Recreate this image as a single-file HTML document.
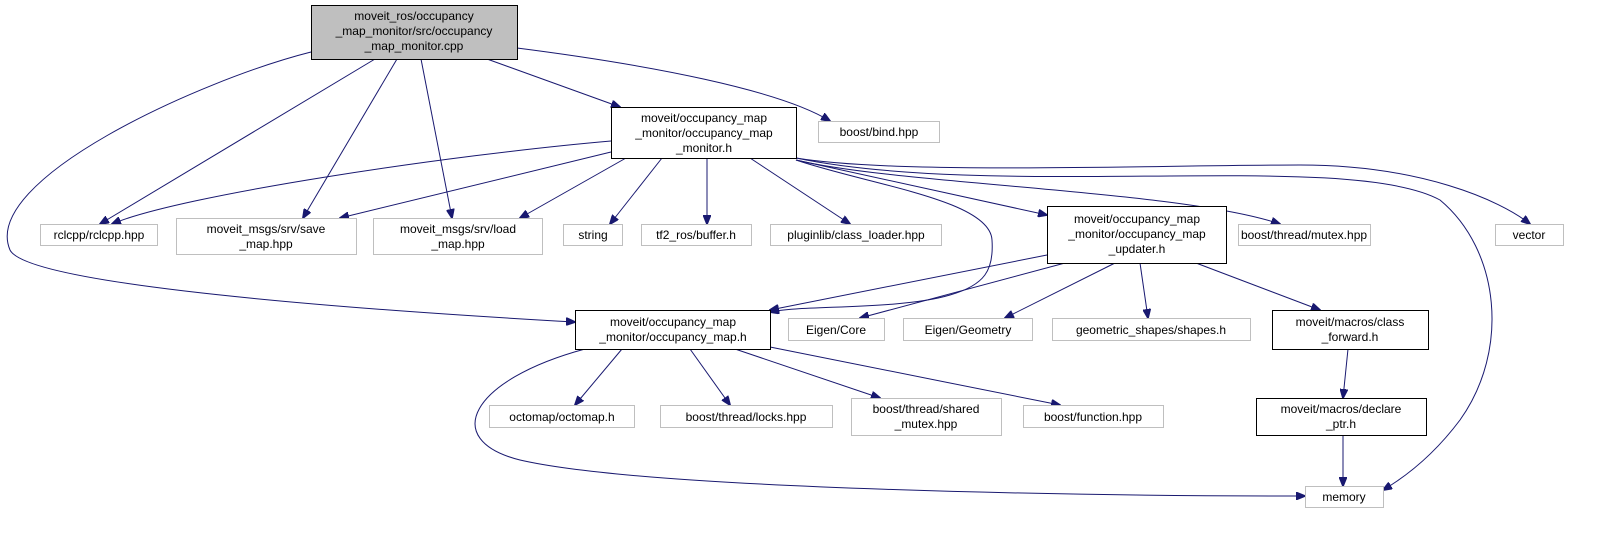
<!DOCTYPE html>
<html><head><meta charset="utf-8"><style>
body{margin:0;background:#fff}
text{font-family:"Liberation Sans",sans-serif;font-size:12px;fill:#000}
.g{fill:#fff;stroke:#bfbfbf}
.b{fill:#fff;stroke:#000}
path{fill:none;stroke:#191970;stroke-width:1}
</style></head><body>
<svg width="1610" height="528" xmlns="http://www.w3.org/2000/svg">
<defs><marker id="a" markerWidth="10" markerHeight="8" refX="9" refY="4" orient="auto" markerUnits="userSpaceOnUse"><path d="M0,0 L10,4 L0,8 z" style="fill:#191970;stroke:#191970"/></marker></defs>
<g marker-end="url(#a)">
<path d="M375,59 L100,224"/>
<path d="M397,59 L303,218"/>
<path d="M421,59 L452,218"/>
<path d="M487,59 L620,107"/>
<path d="M517,48 C650,65 780,90 830,121"/>
<path d="M311,52 C200,80 -20,180 10,250 C30,290 450,315 575,322"/>
<path d="M611,141 C450,155 180,195 112,224"/>
<path d="M611,152 L340,218"/>
<path d="M626,158 L520,218"/>
<path d="M662,158 L610,224"/>
<path d="M707,158 L707,224"/>
<path d="M750,158 L850,224"/>
<path d="M796,160 C870,185 990,200 992,240 C994,270 985,285 950,295 C900,310 800,305 770,312"/>
<path d="M796,160 L1047,215"/>
<path d="M796,160 C900,185 1180,190 1280,224"/>
<path d="M796,158 C900,175 1150,165 1300,165 C1420,165 1500,200 1530,224"/>
<path d="M796,158 C1000,200 1350,150 1440,200 C1500,250 1510,350 1460,420 C1430,460 1400,480 1383,490"/>
<path d="M1047,255 L770,310"/>
<path d="M1065,263 L860,318"/>
<path d="M1115,263 L1005,318"/>
<path d="M1140,263 L1148,318"/>
<path d="M1196,263 L1320,310"/>
<path d="M1348,349 L1343,398"/>
<path d="M1343,435 L1343,486"/>
<path d="M585,349 C470,380 440,440 520,460 C650,490 1100,496 1305,496"/>
<path d="M622,349 L575,405"/>
<path d="M690,349 L730,405"/>
<path d="M735,349 L880,398"/>
<path d="M770,347 L1060,405"/>
</g>
<rect x="311.5" y="5.5" width="206" height="54" style="fill:#bfbfbf;stroke:#000"/>
<text x="414" y="20" text-anchor="middle">moveit_ros/occupancy</text>
<text x="414" y="35" text-anchor="middle">_map_monitor/src/occupancy</text>
<text x="414" y="50" text-anchor="middle">_map_monitor.cpp</text>
<rect class="b" x="611.5" y="107.5" width="185" height="51"/>
<text x="704" y="122" text-anchor="middle">moveit/occupancy_map</text>
<text x="704" y="137" text-anchor="middle">_monitor/occupancy_map</text>
<text x="704" y="152" text-anchor="middle">_monitor.h</text>
<rect class="g" x="818.5" y="121.5" width="121" height="21"/>
<text x="879" y="136" text-anchor="middle">boost/bind.hpp</text>
<rect class="g" x="40.5" y="224.5" width="117" height="21"/>
<text x="99" y="239" text-anchor="middle">rclcpp/rclcpp.hpp</text>
<rect class="g" x="176.5" y="218.5" width="180" height="36"/>
<text x="266" y="233" text-anchor="middle">moveit_msgs/srv/save</text>
<text x="266" y="248" text-anchor="middle">_map.hpp</text>
<rect class="g" x="373.5" y="218.5" width="169" height="36"/>
<text x="458" y="233" text-anchor="middle">moveit_msgs/srv/load</text>
<text x="458" y="248" text-anchor="middle">_map.hpp</text>
<rect class="g" x="563.5" y="224.5" width="59" height="21"/>
<text x="593" y="239" text-anchor="middle">string</text>
<rect class="g" x="641.5" y="224.5" width="110" height="21"/>
<text x="696" y="239" text-anchor="middle">tf2_ros/buffer.h</text>
<rect class="g" x="770.5" y="224.5" width="171" height="21"/>
<text x="856" y="239" text-anchor="middle">pluginlib/class_loader.hpp</text>
<rect class="b" x="1047.5" y="206.5" width="179" height="57"/>
<text x="1137" y="223" text-anchor="middle">moveit/occupancy_map</text>
<text x="1137" y="238" text-anchor="middle">_monitor/occupancy_map</text>
<text x="1137" y="253" text-anchor="middle">_updater.h</text>
<rect class="g" x="1238.5" y="224.5" width="132" height="21"/>
<text x="1304" y="239" text-anchor="middle">boost/thread/mutex.hpp</text>
<rect class="g" x="1495.5" y="224.5" width="68" height="21"/>
<text x="1529" y="239" text-anchor="middle">vector</text>
<rect class="b" x="575.5" y="310.5" width="195" height="39"/>
<text x="673" y="326" text-anchor="middle">moveit/occupancy_map</text>
<text x="673" y="341" text-anchor="middle">_monitor/occupancy_map.h</text>
<rect class="g" x="788.5" y="318.5" width="96" height="22"/>
<text x="836" y="334" text-anchor="middle">Eigen/Core</text>
<rect class="g" x="903.5" y="318.5" width="129" height="22"/>
<text x="968" y="334" text-anchor="middle">Eigen/Geometry</text>
<rect class="g" x="1052.5" y="318.5" width="198" height="22"/>
<text x="1151" y="334" text-anchor="middle">geometric_shapes/shapes.h</text>
<rect class="b" x="1272.5" y="310.5" width="156" height="39"/>
<text x="1350" y="326" text-anchor="middle">moveit/macros/class</text>
<text x="1350" y="341" text-anchor="middle">_forward.h</text>
<rect class="g" x="489.5" y="405.5" width="145" height="22"/>
<text x="562" y="421" text-anchor="middle">octomap/octomap.h</text>
<rect class="g" x="660.5" y="405.5" width="172" height="22"/>
<text x="746" y="421" text-anchor="middle">boost/thread/locks.hpp</text>
<rect class="g" x="851.5" y="398.5" width="150" height="37"/>
<text x="926" y="413" text-anchor="middle">boost/thread/shared</text>
<text x="926" y="428" text-anchor="middle">_mutex.hpp</text>
<rect class="g" x="1023.5" y="405.5" width="140" height="22"/>
<text x="1093" y="421" text-anchor="middle">boost/function.hpp</text>
<rect class="b" x="1256.5" y="398.5" width="170" height="37"/>
<text x="1341" y="413" text-anchor="middle">moveit/macros/declare</text>
<text x="1341" y="428" text-anchor="middle">_ptr.h</text>
<rect class="g" x="1305.5" y="486.5" width="78" height="21"/>
<text x="1344" y="501" text-anchor="middle">memory</text>
</svg>
</body></html>
